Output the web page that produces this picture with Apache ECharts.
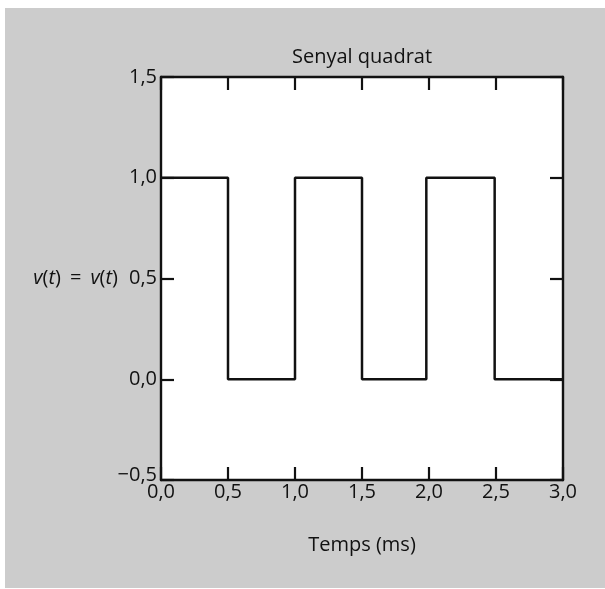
<!DOCTYPE html>
<html>
<head>
<meta charset="utf-8">
<script src="https://cdn.jsdelivr.net/npm/echarts@6/dist/echarts.min.js"></script>
<style>
  html, body { margin: 0; padding: 0; background: #ffffff; }
  #bg { position: absolute; left: 5px; top: 8px; width: 600px; height: 580px; background: #cccccc; }
  #chart { position: absolute; left: 0; top: 0; width: 605px; height: 589px; }
</style>
</head>
<body>
<div id="bg"></div>
<div id="chart"></div>
<script>
// Square signal: transition times (ms) and level held from each time
const times  = [0, 0.5, 1.0, 1.5, 1.98, 2.49, 3.0];
const levels = [1, 0, 1, 0, 1, 0, 0];
const xTicks = { min: 0, max: 3, interval: 0.5 };
const yTicks = { min: -0.5, max: 1.5, interval: 0.5 };
const titleText = 'Senyal quadrat';
const xName = 'Temps (ms)';

const FONT = 'Open Sans';
const FS = 20;
const INK = '#111111';
const fmt = v => (v < 0 ? '\u2212' : '') + Math.abs(v).toFixed(1).replace('.', ',');

const data = times.map((t, i) => [t, levels[i]]);

const chart = echarts.init(document.getElementById('chart'), null, { renderer: 'canvas' });
const tickStyle = { show: true, inside: true, length: 13, lineStyle: { color: INK, width: 2.2 } };
const lineStyle = { show: true, onZero: false, lineStyle: { color: INK, width: 2.4 } };

chart.setOption({
  backgroundColor: 'transparent',
  animation: false,
  textStyle: { fontFamily: FONT, color: INK },
  grid: { left: 161, right: 42, top: 77, bottom: 109, show: true, backgroundColor: '#ffffff', borderWidth: 0 },
  xAxis: [
    {
      type: 'value', position: 'bottom', min: xTicks.min, max: xTicks.max, interval: xTicks.interval,
      axisLine: lineStyle, axisTick: tickStyle, splitLine: { show: false },
      axisLabel: { formatter: fmt, fontFamily: FONT, fontSize: FS, color: INK, margin: 2 },
      name: xName, nameLocation: 'middle', nameGap: 55,
      nameTextStyle: { fontFamily: FONT, fontSize: FS, color: INK }
    },
    {
      type: 'value', position: 'top', min: xTicks.min, max: xTicks.max, interval: xTicks.interval,
      axisLine: lineStyle, axisTick: tickStyle, splitLine: { show: false },
      axisLabel: { show: false },
      name: titleText, nameLocation: 'middle', nameGap: 10,
      nameTextStyle: { fontFamily: FONT, fontSize: FS, color: INK }
    }
  ],
  yAxis: [
    {
      type: 'value', position: 'left', min: yTicks.min, max: yTicks.max, interval: yTicks.interval,
      axisLine: lineStyle, axisTick: tickStyle, splitLine: { show: false },
      axisLabel: {
        fontFamily: FONT, fontSize: FS, color: INK, margin: 4,
        formatter: v => v === yTicks.min ? '{up|' + fmt(v) + '}' : fmt(v),
        rich: { up: { fontFamily: FONT, fontSize: FS, color: INK, padding: [0, 0, 10, 0] } }
      },
      name: '{i|v}{n|(}{i|t}{n|)}{eq|=}{i|v}{n|(}{i|t}{n|)}',
      nameLocation: 'middle', nameGap: 43, nameRotate: 0, nameMoveOverlap: false,
      nameTextStyle: {
        fontFamily: FONT, fontSize: FS, color: INK, align: 'right',
        rich: {
          i: { fontFamily: FONT, fontSize: FS, color: INK, fontStyle: 'italic' },
          n: { fontFamily: FONT, fontSize: FS, color: INK },
          eq: { fontFamily: FONT, fontSize: FS, color: INK, padding: [0, 9, 0, 9] }
        }
      }
    },
    {
      type: 'value', position: 'right', min: yTicks.min, max: yTicks.max, interval: yTicks.interval,
      axisLine: lineStyle, axisTick: tickStyle, splitLine: { show: false },
      axisLabel: { show: false }
    }
  ],
  series: [{
    type: 'line', xAxisIndex: 0, yAxisIndex: 0, step: 'end', data: data,
    symbol: 'none', lineStyle: { color: INK, width: 2.5 }, z: 3
  }]
});
</script>
</body>
</html>
